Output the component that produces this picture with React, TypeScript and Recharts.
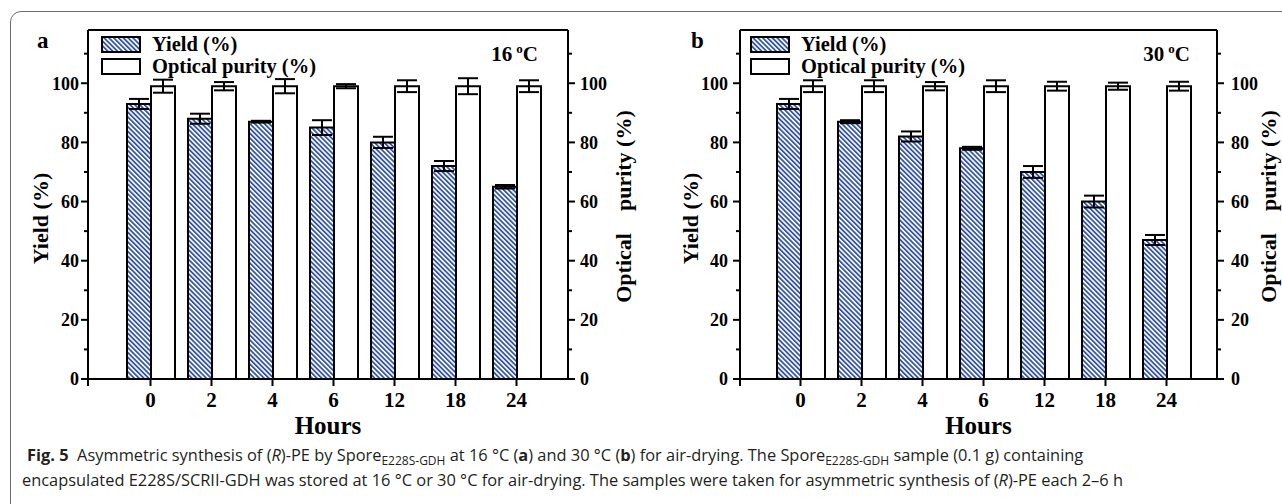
import React from 'react';
import { BarChart, Bar, XAxis, YAxis, ErrorBar, Legend, ReferenceLine } from 'recharts';

const hours = ['0', '2', '4', '6', '12', '18', '24'];

const yieldA = [93, 88, 87, 85, 80, 72, 65];
const yieldAErr = [1.7, 1.7, 0.3, 2.5, 1.9, 1.7, 0.6];
const purityA = [99, 99, 99, 99, 99, 99, 99];
const purityAErr = [2.2, 1.4, 2.4, 0.7, 2.0, 2.7, 2.0];

const yieldB = [93, 87, 82, 78, 70, 60, 47];
const yieldBErr = [1.7, 0.5, 1.7, 0.5, 2.0, 2.0, 1.7];
const purityB = [99, 99, 99, 99, 99, 99, 99];
const purityBErr = [2.0, 2.0, 1.4, 2.0, 1.5, 1.2, 1.5];

const yTicks = [0, 10, 20, 30, 40, 50, 60, 70, 80, 90, 100, 110];
const yMax = 118;
const legendOrder = ['yield', 'purity'];

const SERIF = '"Liberation Serif", "Times New Roman", serif';
const HATCH = '#3556a6';

const buildRows = (y: number[], ye: number[], p: number[], pe: number[]) =>
  hours.map((h, i) => ({ hour: h, yield: y[i], yieldErr: ye[i], purity: p[i], purityErr: pe[i] }));

const dataA = buildRows(yieldA, yieldAErr, purityA, purityAErr);
const dataB = buildRows(yieldB, yieldBErr, purityB, purityBErr);

const XTick = (props: any) => {
  const { x, y, payload } = props;
  return (
    <g>
      <line x1={x} y1={y} x2={x} y2={y + 7} stroke="#000" strokeWidth={2} />
      <text x={x} y={y + 28} textAnchor="middle" fontFamily={SERIF} fontWeight="bold" fontSize={21} fill="#000">
        {payload.value}
      </text>
    </g>
  );
};

const makeYTick = (side: 'left' | 'right', labelGap: number) => (props: any) => {
  const { x, y, payload } = props;
  const v = payload.value;
  const major = v % 20 === 0;
  const len = major ? 7 : 4;
  const s = side === 'left' ? -1 : 1;
  return (
    <g>
      <line x1={x} y1={y} x2={x + s * len} y2={y} stroke="#000" strokeWidth={2} />
      {side === 'left' && v === 0 ? <line x1={x} y1={y} x2={x} y2={y + 7} stroke="#000" strokeWidth={2} /> : null}
      {major ? (
        <text
          x={x + s * labelGap}
          y={y}
          dy="0.35em"
          textAnchor={side === 'left' ? 'end' : 'start'}
          fontFamily={SERIF}
          fontWeight="bold"
          fontSize={18}
          fill="#000"
        >
          {v}
        </text>
      ) : null}
    </g>
  );
};

const renderLegend = (props: any) => {
  const items = [...(props.payload || [])].sort(
    (a: any, b: any) => legendOrder.indexOf(a.dataKey) - legendOrder.indexOf(b.dataKey)
  );
  return (
    <div style={{ display: 'flex', flexDirection: 'column' }}>
      {items.map((e: any, i: number) => (
        <div key={i} style={{ display: 'flex', alignItems: 'center', height: 22 }}>
          <svg width={40} height={17} style={{ display: 'block' }}>
            <rect x={1} y={1} width={38} height={15} fill={e.color} stroke="#000" strokeWidth={2} />
          </svg>
          <span
            style={{
              marginLeft: 11,
              fontFamily: SERIF,
              fontWeight: 'bold',
              fontSize: 20.5,
              lineHeight: '22px',
              color: '#000',
              whiteSpace: 'nowrap',
            }}
          >
            {e.value}
          </span>
        </div>
      ))}
    </div>
  );
};

type PanelProps = {
  data: any[];
  width: number;
  leftW: number;
  rightW: number;
  padL: number;
  padR: number;
  patternId: string;
  leftTitleOffset: number;
  rightTitleOffset: number;
  leftLabelGap: number;
  rightLabelGap: number;
  legendLeft: number;
};

const Panel = (p: PanelProps) => {
  const height = 440;
  return (
    <BarChart
      width={p.width}
      height={height}
      data={p.data}
      margin={{ top: 30, right: 0, bottom: 0, left: 0 }}
      barGap={0}
    >
      <defs>
        <pattern id={p.patternId} patternUnits="userSpaceOnUse" width={3.4} height={3.4} patternTransform="rotate(-45)">
          <rect x={0} y={0} width={3.4} height={3.4} fill="#fff" />
          <rect x={0} y={0} width={1.8} height={3.4} fill={HATCH} />
        </pattern>
      </defs>
      <XAxis
        dataKey="hour"
        height={61}
        padding={{ left: p.padL, right: p.padR }}
        axisLine={{ stroke: '#000', strokeWidth: 2 }}
        tickLine={false}
        tickSize={0}
        tickMargin={0}
        interval={0}
        tick={<XTick />}
        label={(lp: any) => {
          const vb = lp.viewBox || {};
          return (
            <text
              x={vb.x + vb.width / 2}
              y={vb.y + 55}
              textAnchor="middle"
              fontFamily={SERIF}
              fontWeight="bold"
              fontSize={25}
              fill="#000"
            >
              Hours
            </text>
          );
        }}
      />
      <YAxis
        yAxisId="left"
        orientation="left"
        width={p.leftW}
        domain={[0, yMax]}
        ticks={yTicks}
        interval={0}
        allowDataOverflow
        axisLine={{ stroke: '#000', strokeWidth: 2 }}
        tickLine={false}
        tickSize={0}
        tickMargin={0}
        tick={makeYTick('left', p.leftLabelGap)}
        label={(lp: any) => {
          const vb = lp.viewBox || {};
          const cx = vb.x + vb.width - p.leftTitleOffset;
          const cy = vb.y + vb.height / 2 + 14;
          return (
            <text
              x={cx}
              y={cy}
              transform={`rotate(-90 ${cx} ${cy})`}
              textAnchor="middle"
              dy="0.35em"
              fontFamily={SERIF}
              fontWeight="bold"
              fontSize={22}
              fill="#000"
            >
              Yield (%)
            </text>
          );
        }}
      />
      <YAxis
        yAxisId="right"
        orientation="right"
        width={p.rightW}
        domain={[0, yMax]}
        ticks={yTicks}
        interval={0}
        allowDataOverflow
        axisLine={{ stroke: '#000', strokeWidth: 2 }}
        tickLine={false}
        tickSize={0}
        tickMargin={0}
        tick={makeYTick('right', p.rightLabelGap)}
        label={(lp: any) => {
          const vb = lp.viewBox || {};
          const cx = vb.x + p.rightTitleOffset;
          const cy = vb.y + vb.height / 2 + 2;
          return (
            <text
              x={cx}
              y={cy}
              transform={`rotate(-90 ${cx} ${cy})`}
              textAnchor="middle"
              dy="0.35em"
              fontFamily={SERIF}
              fontWeight="bold"
              fontSize={22}
              fill="#000"
              style={{ whiteSpace: 'pre' }}
            >
              {'Optical\u00a0\u00a0\u00a0\u00a0purity (%)'}
            </text>
          );
        }}
      />
      <ReferenceLine yAxisId="left" y={yMax} stroke="#000" strokeWidth={2} ifOverflow="extendDomain" />
      <Legend
        layout="vertical"
        align="center"
        verticalAlign="middle"
        content={renderLegend}
        wrapperStyle={{ left: p.legendLeft, top: 33, width: 'auto', height: 'auto' }}
      />
      <Bar
        yAxisId="left"
        dataKey="yield"
        name="Yield (%)"
        fill={`url(#${p.patternId})`}
        stroke="#000"
        strokeWidth={2}
        barSize={24}
        isAnimationActive={false}
      >
        <ErrorBar dataKey="yieldErr" width={10} stroke="#000" strokeWidth={2} direction="y" isAnimationActive={false} />
      </Bar>
      <Bar
        yAxisId="right"
        dataKey="purity"
        name="Optical purity (%)"
        fill="#fff"
        stroke="#000"
        strokeWidth={2}
        barSize={24}
        isAnimationActive={false}
      >
        <ErrorBar dataKey="purityErr" width={10} stroke="#000" strokeWidth={2} direction="y" isAnimationActive={false} />
      </Bar>
    </BarChart>
  );
};

const subStyle: React.CSSProperties = { fontSize: 12, position: 'relative', top: 4, lineHeight: 0 };

export default function App() {
  return (
    <div
      style={{
        position: 'absolute',
        left: 0,
        top: 0,
        width: 1282,
        height: 504,
        overflow: 'hidden',
        background: '#fff',
      }}
    >
      <div
        style={{
          position: 'absolute',
          left: 10,
          top: 11,
          width: 1320,
          height: 560,
          border: '1px solid #6d6d6d',
          borderRadius: 11,
          boxSizing: 'border-box',
        }}
      />
      <div style={{ position: 'absolute', left: 0, top: 0 }}>
        <Panel
          data={dataA}
          width={640}
          leftW={88}
          rightW={72}
          padL={32}
          padR={21}
          patternId="hatchA"
          leftTitleOffset={48}
          rightTitleOffset={55}
          leftLabelGap={9}
          rightLabelGap={12}
          legendLeft={101}
        />
      </div>
      <div style={{ position: 'absolute', left: 640, top: 0 }}>
        <Panel
          data={dataB}
          width={642}
          leftW={100}
          rightW={65}
          padL={30}
          padR={20}
          patternId="hatchB"
          leftTitleOffset={50}
          rightTitleOffset={51}
          leftLabelGap={12}
          rightLabelGap={14}
          legendLeft={110}
        />
      </div>
      <svg width={1282} height={504} style={{ position: 'absolute', left: 0, top: 0, pointerEvents: 'none' }}>
        <text x={37} y={48} fontFamily={SERIF} fontWeight="bold" fontSize={23} fill="#000">a</text>
        <text x={691} y={48} fontFamily={SERIF} fontWeight="bold" fontSize={23} fill="#000">b</text>
        <text x={538} y={61} textAnchor="end" fontFamily={SERIF} fontWeight="bold" fontSize={21} fill="#000">
          16<tspan dx={4} dy={-8} fontSize={13}>o</tspan>
          <tspan dy={8}>C</tspan>
        </text>
        <text x={1190} y={61} textAnchor="end" fontFamily={SERIF} fontWeight="bold" fontSize={21} fill="#000">
          30<tspan dx={4} dy={-8} fontSize={13}>o</tspan>
          <tspan dy={8}>C</tspan>
        </text>
      </svg>
      <div
        style={{
          position: 'absolute',
          left: 27,
          top: 442,
          fontFamily: '"Open Sans", "Noto Sans", sans-serif',
          fontSize: 16.4,
          lineHeight: '25px',
          color: '#231f20',
          whiteSpace: 'nowrap',
        }}
      >
        <div>
          <b>Fig. 5</b>
          {'\u00a0\u00a0'}Asymmetric synthesis of (<i>R</i>)-PE by Spore<span style={subStyle}>E228S-GDH</span> at 16 °C (
          <b>a</b>) and 30 °C (<b>b</b>) for air-drying. The Spore<span style={subStyle}>E228S-GDH</span> sample (0.1 g)
          containing
        </div>
        <div style={{ marginLeft: -5 }}>
          encapsulated E228S/SCRII-GDH was stored at 16 °C or 30 °C for air-drying. The samples were taken for asymmetric
          synthesis of (<i>R</i>)-PE each 2–6 h
        </div>
      </div>
    </div>
  );
}
